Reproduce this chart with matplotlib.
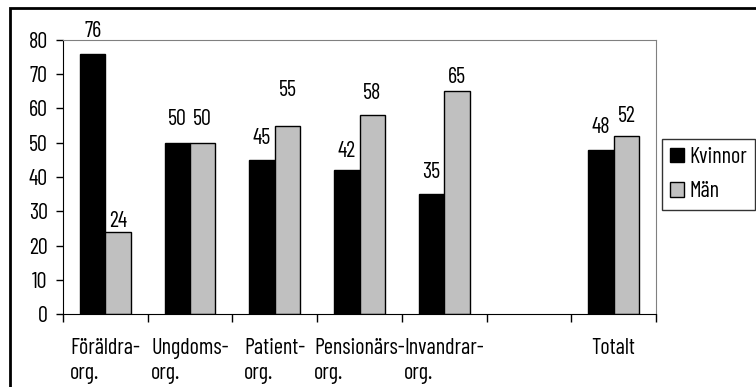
import numpy as np
import matplotlib
matplotlib.use("Agg")
import matplotlib.pyplot as plt
from matplotlib.patches import Rectangle

plt.rcParams['font.family'] = ['Barlow Condensed', 'DejaVu Sans']

categories = ["Föräldra-\norg.", "Ungdoms-\norg.", "Patient-\norg.", "Pensionärs-\norg.",
              "Invandrar-\norg.", "", "Totalt"]
kvinnor = [76, 50, 45, 42, 35, np.nan, 48]
man = [24, 50, 55, 58, 65, np.nan, 52]
yticks = [0, 10, 20, 30, 40, 50, 60, 70, 80]

# label lift above bar top, in pixels (most labels sit ~21px up, a few were moved)
lift_k = [22, 23, 21, 19, 22, 0, 22]
lift_m = [10, 23, 35, 22, 14, 0, 19]

fig = plt.figure(figsize=(7.56, 3.87), dpi=100)
ax = fig.add_axes([63 / 756, 1 - 314 / 387, (656 - 63) / 756, (314 - 40) / 387])

x = np.arange(len(categories))
w = 0.3
ax.bar(x - w / 2, kvinnor, w, color='black', edgecolor='black', linewidth=1, label='Kvinnor')
ax.bar(x + w / 2, man, w, color='#c0c0c0', edgecolor='black', linewidth=1, label='Män')

fs = 16
for i in range(len(categories)):
    if np.isnan(kvinnor[i]):
        continue
    ax.annotate(f"{kvinnor[i]:g}", (x[i] - w / 2, kvinnor[i]), xytext=(0, lift_k[i] * 0.72),
                textcoords='offset points', ha='center', va='center', fontsize=fs)
    ax.annotate(f"{man[i]:g}", (x[i] + w / 2, man[i]), xytext=(0, lift_m[i] * 0.72),
                textcoords='offset points', ha='center', va='center', fontsize=fs)

ax.set_xlim(-0.5, len(categories) - 0.5)
ax.set_ylim(0, 80)
ax.set_yticks(yticks)
ax.set_yticklabels([str(v) for v in yticks], fontsize=fs)
ax.tick_params(axis='y', length=5, width=1, pad=6, direction='out')

ax.set_xticks(x)
ax.set_xticklabels(categories, fontsize=fs, linespacing=1.3)
for t in ax.get_xticklabels():
    t.set_multialignment('left')
ax.tick_params(axis='x', which='major', length=0, pad=17)
ax.set_xticks(np.arange(-0.5, len(categories)), minor=True)
ax.tick_params(axis='x', which='minor', length=6, width=1, direction='out')

for side in ['top', 'right']:
    ax.spines[side].set_color('#808080')
for side in ['left', 'bottom']:
    ax.spines[side].set_color('black')

leg = ax.legend(loc='upper left', bbox_to_anchor=(662 / 756, 1 - 139 / 387), bbox_transform=fig.transFigure,
                fontsize=fs, frameon=True, fancybox=False, borderaxespad=0, handlelength=0.65,
                handleheight=0.65, handletextpad=0.25, borderpad=0.35, labelspacing=0.6)
leg.get_frame().set_edgecolor('black')
leg.get_frame().set_linewidth(1)

# outer chart frame
fig.patches.append(Rectangle((10 / 756, -0.2), 1.2, 1 - 8 / 387 + 0.2, transform=fig.transFigure,
                             fill=False, edgecolor='black', linewidth=2))

fig.savefig('out.png', dpi=100)
